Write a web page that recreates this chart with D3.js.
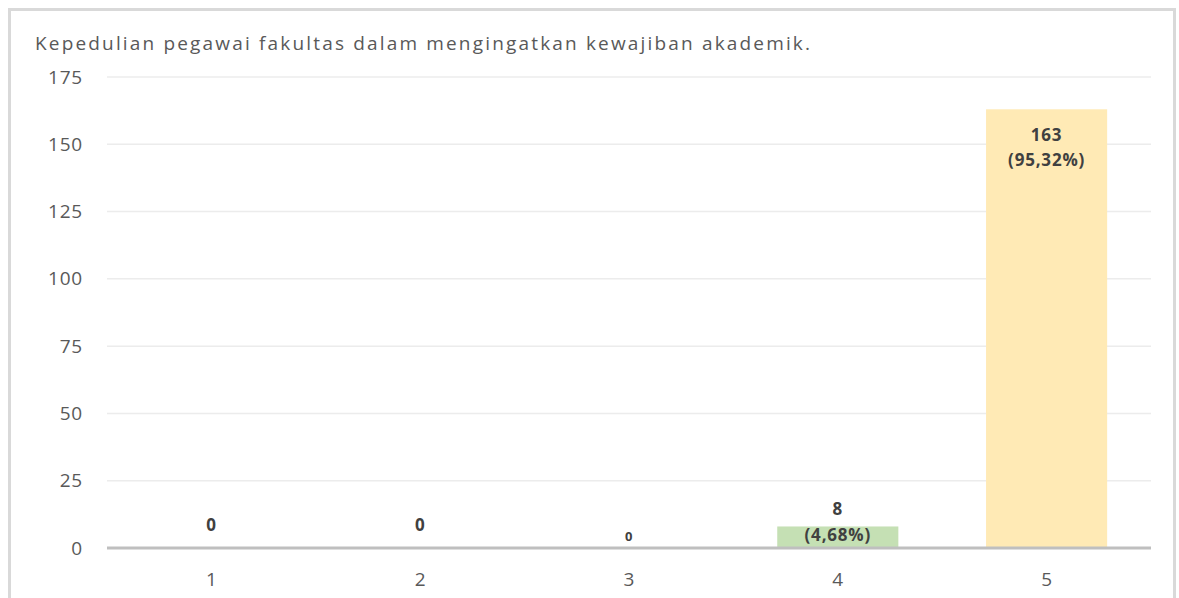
<!DOCTYPE html>
<html>
<head>
<meta charset="utf-8">
<script src="https://cdn.jsdelivr.net/npm/d3@7"></script>
<style>
  html, body { margin: 0; padding: 0; background: #fff; }
  svg { display: block; }
</style>
</head>
<body>
<svg id="chart" width="1179" height="598"></svg>
<script>
// Chart data
const title = "Kepedulian pegawai fakultas dalam mengingatkan kewajiban akademik.";
const categories = ["1", "2", "3", "4", "5"];
const counts = [0, 0, 0, 8, 163];
const percentLabels = ["", "", "", "(4,68%)", "(95,32%)"];
const barColors = ["#9dc3e6", "#f4b183", "#c9c9c9", "#c5e0b4", "#ffeab5"];
const yTicks = [0, 25, 50, 75, 100, 125, 150, 175];

const svg = d3.select("#chart");
const W = 1179, H = 598;
const margin = { left: 107, right: 28, top: 77, bottom: 50 };
const font = "'Open Sans', sans-serif";

// Outer frame
svg.append("rect")
  .attr("x", 9.5).attr("y", 9.5)
  .attr("width", 1165).attr("height", 620)
  .attr("fill", "#fff")
  .attr("stroke", "#d9d9d9").attr("stroke-width", 3);

const x = d3.scaleBand()
  .domain(categories)
  .range([margin.left, W - margin.right])
  .paddingInner(0.42).paddingOuter(0.21);

const y = d3.scaleLinear()
  .domain([0, 175])
  .range([H - margin.bottom, margin.top]);

// Gridlines
svg.append("g")
  .selectAll("line")
  .data(yTicks.filter(d => d > 0))
  .join("line")
  .attr("x1", margin.left).attr("x2", W - margin.right)
  .attr("y1", d => y(d)).attr("y2", d => y(d))
  .attr("stroke", "#ececec").attr("stroke-width", 1.5);

// Y axis labels
const yAxis = d3.axisLeft(y).tickValues(yTicks).tickSize(0).tickPadding(24);
svg.append("g")
  .attr("transform", `translate(${margin.left},0)`)
  .call(yAxis)
  .call(g => g.select(".domain").remove())
  .call(g => g.selectAll("text")
    .attr("fill", "#595959")
    .attr("letter-spacing", 0.8)
    .style("font-family", font)
    .style("font-size", "19px"));

// Bars
svg.append("g")
  .selectAll("rect")
  .data(counts)
  .join("rect")
  .attr("x", (d, i) => x(categories[i]))
  .attr("y", d => y(d))
  .attr("width", x.bandwidth())
  .attr("height", d => y(0) - y(d))
  .attr("fill", (d, i) => barColors[i]);

// Baseline
svg.append("line")
  .attr("x1", margin.left).attr("x2", W - margin.right)
  .attr("y1", y(0)).attr("y2", y(0))
  .attr("stroke", "#bfbfbf").attr("stroke-width", 3);

// X axis labels
const xAxis = d3.axisBottom(x).tickSize(0).tickPadding(25);
svg.append("g")
  .attr("transform", `translate(0,${y(0)})`)
  .call(xAxis)
  .call(g => g.select(".domain").remove())
  .call(g => g.selectAll("text")
    .attr("fill", "#595959")
    .style("font-family", font)
    .style("font-size", "19px"));

// Value labels
const lab = svg.append("g")
  .attr("fill", "#404040")
  .attr("font-family", font)
  .attr("font-weight", "bold")
  .attr("letter-spacing", 0.8)
  .attr("text-anchor", "middle");

counts.forEach((v, i) => {
  const cx = x(categories[i]) + x.bandwidth() / 2;
  if (i === 4) {
    const top = y(v);
    lab.append("text").attr("x", cx).attr("y", top + 32).attr("font-size", 17).text(v);
    lab.append("text").attr("x", cx).attr("y", top + 57).attr("font-size", 17).text(percentLabels[i]);
  } else if (i === 3) {
    lab.append("text").attr("x", cx).attr("y", y(v) - 11.5).attr("font-size", 17).text(v);
    lab.append("text").attr("x", cx).attr("y", y(v) + 15).attr("font-size", 17).text(percentLabels[i]);
  } else if (i === 2) {
    lab.append("text").attr("x", cx).attr("y", y(v) - 7).attr("font-size", 13).text(v);
  } else {
    lab.append("text").attr("x", cx).attr("y", y(v) - 17).attr("font-size", 17).text(v);
  }
});

// Title
svg.append("text")
  .attr("x", 35).attr("y", 50)
  .attr("fill", "#595959")
  .attr("font-family", font)
  .attr("font-size", 19)
  .attr("textLength", 775)
  .attr("lengthAdjust", "spacing")
  .text(title);
</script>
</body>
</html>
